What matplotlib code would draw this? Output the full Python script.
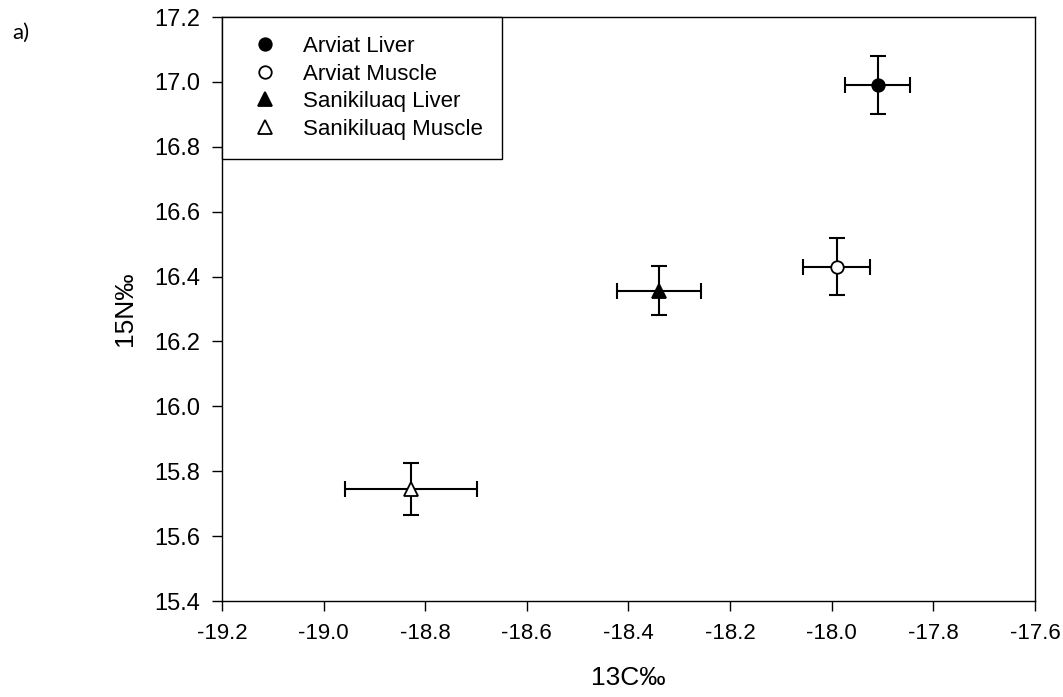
import matplotlib.pyplot as plt

plt.rcParams['font.family'] = ['Liberation Sans', 'DejaVu Sans']

groups = ['Arviat Liver', 'Arviat Muscle', 'Sanikiluaq Liver', 'Sanikiluaq Muscle']
d13c = [-17.91, -17.99, -18.34, -18.828]
d13c_err = [0.063, 0.066, 0.083, 0.13]
d15n = [16.99, 16.43, 16.357, 15.745]
d15n_err = [0.09, 0.088, 0.075, 0.08]
markers = ['o', 'o', '^', '^']
msizes = [9, 9, 10.5, 10.5]
faces = ['black', 'white', 'black', 'white']

fig = plt.figure(figsize=(10.63, 6.97), dpi=100)
ax = fig.add_axes([0.2088, 0.1377, 0.7649, 0.8379])

for i in range(len(groups)):
    ax.errorbar(d13c[i], d15n[i], xerr=d13c_err[i], yerr=d15n_err[i],
                fmt='none', ecolor='black', elinewidth=1.5, capsize=6, capthick=1.5, zorder=2)
    ax.plot(d13c[i], d15n[i], linestyle='none', marker=markers[i], markersize=msizes[i],
            markerfacecolor=faces[i], markeredgecolor='black', markeredgewidth=1.3,
            label=groups[i], zorder=3)

ax.set_xlim(-19.2, -17.6)
ax.set_ylim(15.4, 17.2)
ax.set_xticks([-19.2, -19.0, -18.8, -18.6, -18.4, -18.2, -18.0, -17.8, -17.6])
ax.set_yticks([15.4, 15.6, 15.8, 16.0, 16.2, 16.4, 16.6, 16.8, 17.0, 17.2])
ax.xaxis.set_major_formatter(plt.FormatStrFormatter('%.1f'))
ax.yaxis.set_major_formatter(plt.FormatStrFormatter('%.1f'))
ax.tick_params(direction='out', length=7, width=1, pad=8.5)
ax.tick_params(axis='x', labelsize=16)
ax.tick_params(axis='y', labelsize=17)
for s in ax.spines.values():
    s.set_linewidth(1)

ax.set_xlabel('13C‰', fontsize=19)
ax.set_ylabel('15N‰', fontsize=19)
ax.xaxis.set_label_coords(0.5, -0.1113)
ax.yaxis.set_label_coords(-0.1045, 0.5)

leg = ax.legend(loc='upper left', bbox_to_anchor=(0, 1), fontsize=16, frameon=True,
                fancybox=False, edgecolor='black', framealpha=1, borderaxespad=0,
                handlelength=2.17, handletextpad=0.63, labelspacing=0.3, borderpad=0.85,
                markerscale=1.0)
leg.get_frame().set_linewidth(1)

fig.text(12 / 1063, 1 - 33 / 697, 'a)', fontsize=16, family=['Lato', 'DejaVu Sans'],
         ha='left', va='center')

fig.savefig('out.png', dpi=100)
